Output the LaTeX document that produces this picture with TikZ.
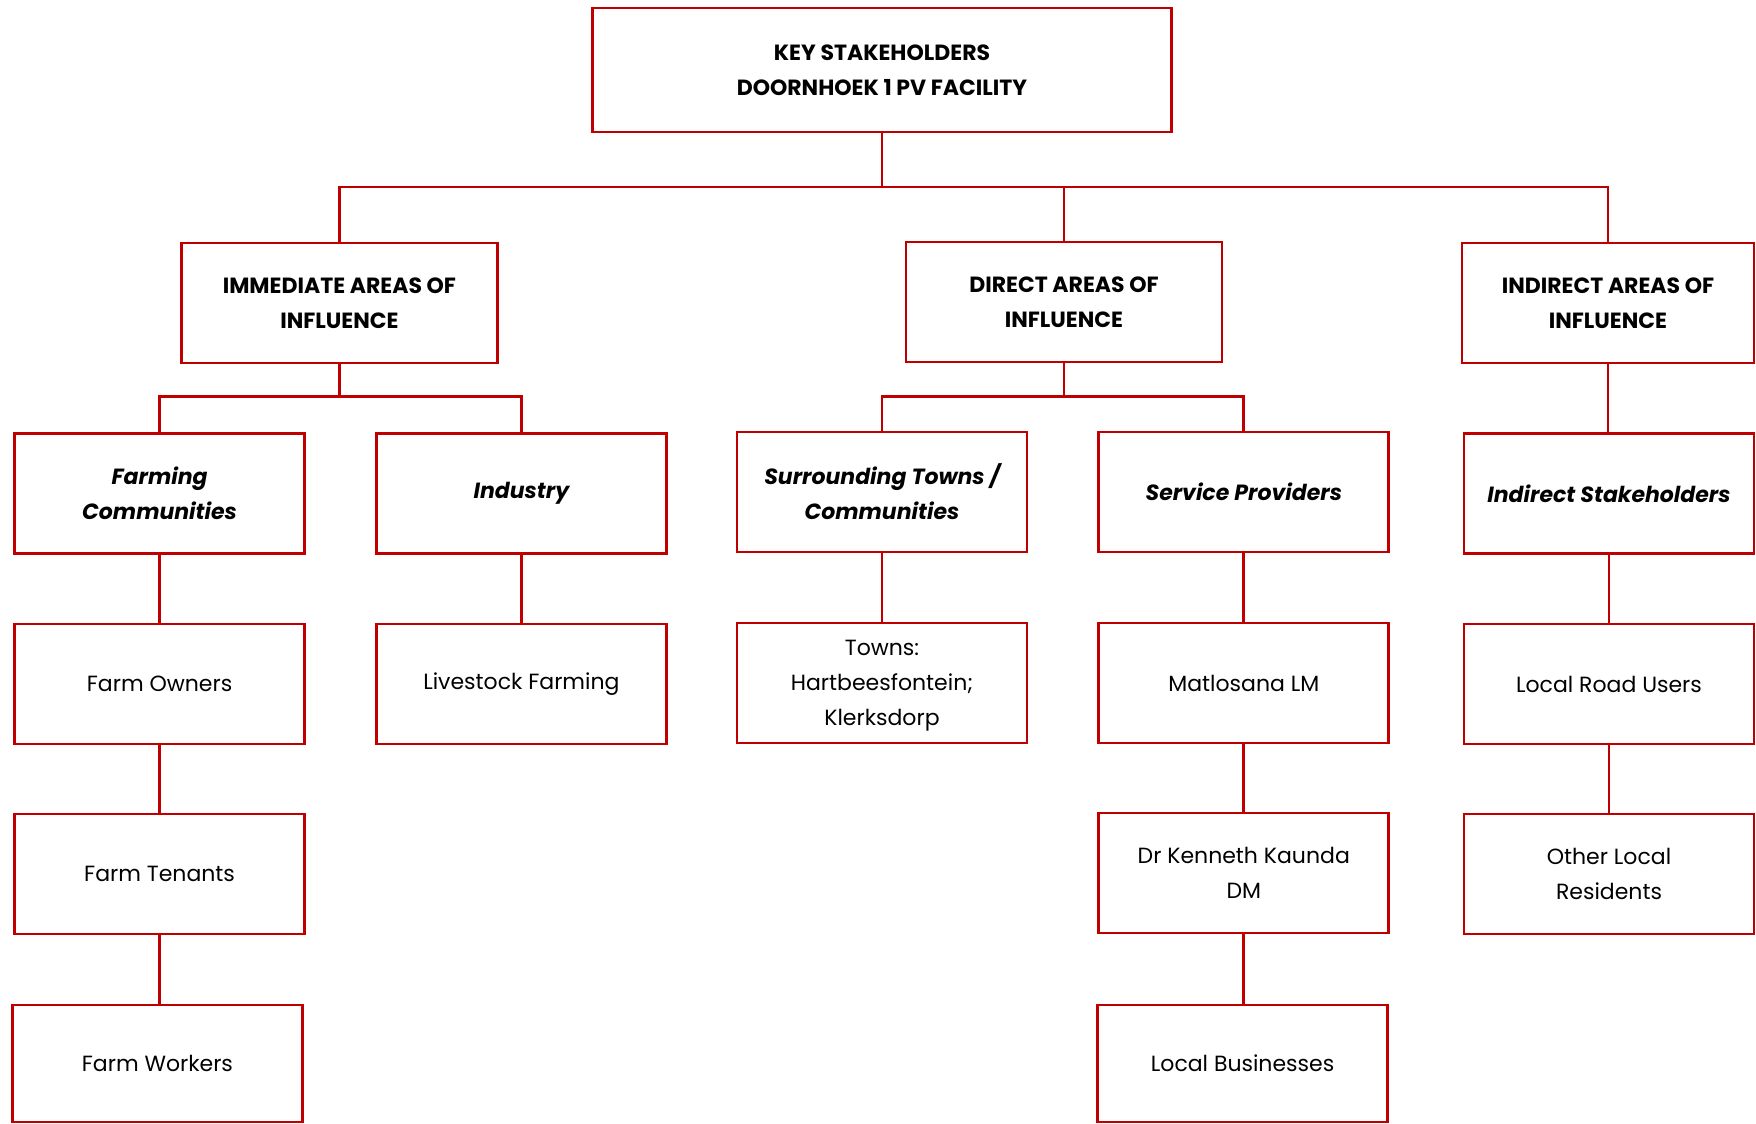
\documentclass[tikz,border=0pt]{standalone}
\usepackage{fontspec}
\setmainfont{Poppins}
\definecolor{boxred}{HTML}{C00000}
\begin{document}
\begin{tikzpicture}[x=1pt,y=-1pt,
  box/.style={draw=boxred,line width=2.9pt,fill=white,inner sep=0pt,align=center,
    minimum width=290pt,minimum height=120pt,font=\fontsize{22}{35}\selectfont},
  head/.style={box,font=\fontsize{22}{35}\selectfont\bfseries},
  cat/.style={box,font=\fontsize{22}{35}\selectfont\bfseries\itshape},
  link/.style={draw=boxred,line width=2.9pt}]
\useasboundingbox (0,0) rectangle (1756,1124);
% level 1
\node[head,minimum width=579pt,minimum height=124pt] (top) at (882,70) {KEY STAKEHOLDERS\\DOORNHOEK 1 PV FACILITY};
% level 2
\node[head,minimum width=316pt] (imm) at (339.4,303) {IMMEDIATE AREAS OF\\INFLUENCE};
\node[head,minimum width=316pt] (dir) at (1064,302) {DIRECT AREAS OF\\INFLUENCE};
\node[head,minimum width=292pt] (ind) at (1608,303) {INDIRECT AREAS OF\\INFLUENCE};
% level 3
\node[cat] (farm) at (159.6,493.4) {Farming\\Communities};
\node[cat] (indu) at (521.4,493.4) {Industry};
\node[cat] (sur) at (882,492) {Surrounding Towns /\\Communities};
\node[cat] (serv) at (1243.8,492) {Service Providers};
\node[cat] (indst) at (1609,493.4) {Indirect Stakeholders};
% level 4
\node[box] (fo) at (159.6,684) {Farm Owners};
\node[box] (live) at (521.4,684) {Livestock Farming};
\node[box,text depth=0pt] (towns) at (882,683) {Towns:\\Hartbeesfontein;\\Klerksdorp};
\node[box] (mat) at (1243.8,683) {Matlosana LM};
\node[box] (road) at (1609,684) {Local Road Users};
% level 5
\node[box] (ten) at (159.6,874) {Farm Tenants};
\node[box] (dr) at (1243.8,873) {Dr Kenneth Kaunda\\DM};
\node[box] (oth) at (1609,874) {Other Local\\Residents};
% level 6
\node[box,minimum height=117pt] (fw) at (157.4,1063.5) {Farm Workers};
\node[box,minimum height=117pt] (lb) at (1242.6,1063.5) {Local Businesses};
% connectors
\coordinate (bus1) at (882,187);
\coordinate (bus2) at (339.4,396.5);
\coordinate (bus3) at (1064,396.5);
\draw[link] (top.south) -- (bus1);
\draw[link] (imm.north) -- (imm.north |- bus1) -- (ind.north |- bus1) -- (ind.north);
\draw[link] (dir.north) -- (dir.north |- bus1);
\draw[link] (imm.south) -- (bus2);
\draw[link] (farm.north) -- (farm.north |- bus2) -- (indu.north |- bus2) -- (indu.north);
\draw[link] (dir.south) -- (bus3);
\draw[link] (sur.north) -- (sur.north |- bus3) -- (serv.north |- bus3) -- (serv.north);
\draw[link] (ind.south) -- (ind.south |- indst.north);
\draw[link] (farm.south) -- (fo.north);
\draw[link] (indu.south) -- (live.north);
\draw[link] (sur.south) -- (towns.north);
\draw[link] (serv.south) -- (mat.north);
\draw[link] (indst.south) -- (road.north);
\draw[link] (fo.south) -- (ten.north);
\draw[link] (ten.south) -- (fo.south |- fw.north);
\draw[link] (mat.south) -- (dr.north);
\draw[link] (dr.south) -- (dr.south |- lb.north);
\draw[link] (road.south) -- (oth.north);
\end{tikzpicture}
\end{document}
